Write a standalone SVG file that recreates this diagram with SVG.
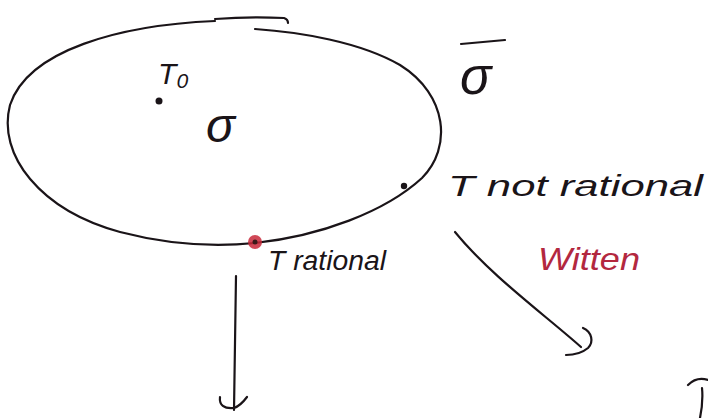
<svg xmlns="http://www.w3.org/2000/svg" width="708" height="418" viewBox="0 0 708 418">
<style>
.ink{fill:none;stroke:#1a1418;stroke-width:2.2;stroke-linecap:round;stroke-linejoin:round}
.lbl{font-family:"Liberation Sans",Arial,sans-serif;font-style:italic;fill:#1a1418}
.red{fill:#b3283f}
</style>
<rect width="708" height="418" fill="#ffffff"/>
<g id="space">
<path class="ink" d="M215,21 C120,25 28,50 10,105 C-3,155 40,210 120,232 C170,245 215,247 255,243 C320,236 385,212 422,178 C452,148 448,95 400,65 C360,42 300,32 255,29" stroke-width="1.8"/>
<path class="ink" d="M215,19 C240,17 265,17 284,18 C287,19 288,21 288,23" stroke-width="2.4"/>
</g>
<g id="sigma">
<text class="lbl" x="206" y="142" font-size="48">σ</text>
</g>
<g id="sigmabar">
<path class="ink" d="M461,44 L505,40" stroke-width="3"/>
<text class="lbl" x="460" y="94" font-size="52">σ</text>
</g>
<g id="t0">
<circle cx="159" cy="101" r="3.5" fill="#1a1418"/>
<text class="lbl" x="158" y="84" font-size="30">T₀</text>
</g>
<g id="tnotrational">
<circle cx="404" cy="186" r="3.2" fill="#1a1418"/>
<text class="lbl" x="448" y="196" font-size="30" textLength="255" lengthAdjust="spacingAndGlyphs">T not rational</text>
</g>
<g id="trational">
<circle cx="255" cy="242" r="7" fill="#c8283a" opacity="0.85"/>
<circle cx="255" cy="242" r="2.5" fill="#3a1a1a"/>
<text class="lbl" x="268" y="270" font-size="27" textLength="118" lengthAdjust="spacingAndGlyphs">T rational</text>
</g>
<g id="witten">
<text class="lbl red" x="538" y="270" font-size="32" textLength="102" lengthAdjust="spacingAndGlyphs">Witten</text>
</g>
<g id="connectors">
<path class="ink" d="M236,276 L234,410" stroke-width="2.6"/>
<path class="ink" d="M220,397 C219,405 224,409 234,408 C240,406 244,401 247,397" stroke-width="2.6"/>
<path class="ink" d="M455,232 C490,275 545,315 581,347" stroke-width="2.6"/>
<path class="ink" d="M583,328 C592,332 594,342 588,348 C582,353 573,355 566,355" stroke-width="2.6"/>
<path class="ink" d="M688,385 C695,378 702,378 708,380 M702,388 C703,398 702,408 700,418" stroke-width="3"/>
</g>
</svg>
